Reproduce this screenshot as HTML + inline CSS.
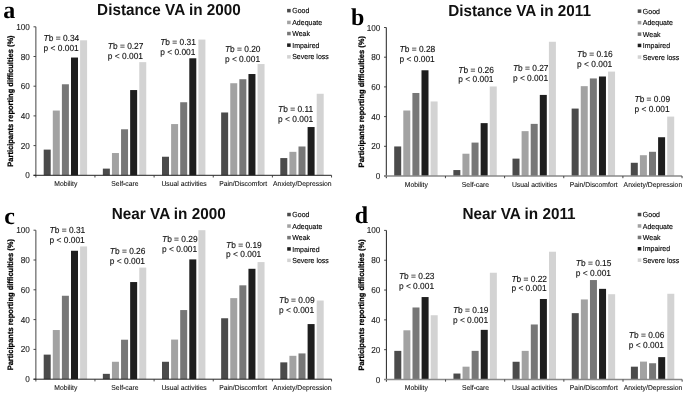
<!DOCTYPE html>
<html><head><meta charset="utf-8"><style>
html,body{margin:0;padding:0;background:#fff;}
svg{display:block;filter:grayscale(1) blur(0.3px);text-rendering:geometricPrecision;}
.tk{stroke:#2a2a2a;stroke-width:0.1px;}
.an{stroke:#111;stroke-width:0.12px;}
.ct{stroke:#111;stroke-width:0.08px;}
.lg{stroke:#000;stroke-width:0.12px;}
.yt{stroke:#000;stroke-width:0.25px;}
</style></head><body>
<svg width="685" height="393" viewBox="0 0 685 393">
<rect width="685" height="393" fill="#fff"/>
<text transform="translate(3.2,18.3)" font-weight="bold" font-family='"Liberation Serif", serif' font-size="24" fill="#000" class="pl">a</text>
<text transform="translate(97.1,15.1) scale(1,1.04)" font-weight="bold" font-family='"Liberation Sans", sans-serif' font-size="15.3" fill="#111" class="ti">Distance VA in 2000</text>
<rect x="43.7" y="149.61" width="7.0" height="25.69" fill="#4b4b4b"/>
<rect x="52.8" y="110.55" width="7.0" height="64.75" fill="#a2a2a2"/>
<rect x="61.9" y="84.27" width="7.0" height="91.03" fill="#777777"/>
<rect x="71" y="57.54" width="7.0" height="117.76" fill="#1e1e1e"/>
<rect x="80.1" y="40.31" width="7.0" height="134.99" fill="#d3d3d3"/>
<text transform="translate(65.78,185.9) scale(1.0,1.04)" text-anchor="middle" font-family='"Liberation Sans", sans-serif' font-size="6.8" fill="#111" class="ct">Mobility</text>
<rect x="102.85" y="168.62" width="7.0" height="6.68" fill="#4b4b4b"/>
<rect x="111.95" y="153.03" width="7.0" height="22.28" fill="#a2a2a2"/>
<rect x="121.05" y="129.27" width="7.0" height="46.04" fill="#777777"/>
<rect x="130.15" y="90.06" width="7.0" height="85.24" fill="#1e1e1e"/>
<rect x="139.25" y="62.14" width="7.0" height="113.16" fill="#d3d3d3"/>
<text transform="translate(124.92,185.9) scale(1.0,1.04)" text-anchor="middle" font-family='"Liberation Sans", sans-serif' font-size="6.8" fill="#111" class="ct">Self-care</text>
<rect x="162" y="156.74" width="7.0" height="18.56" fill="#4b4b4b"/>
<rect x="171.1" y="124.07" width="7.0" height="51.23" fill="#a2a2a2"/>
<rect x="180.2" y="102.24" width="7.0" height="73.06" fill="#777777"/>
<rect x="189.3" y="58.28" width="7.0" height="117.02" fill="#1e1e1e"/>
<rect x="198.4" y="39.57" width="7.0" height="135.73" fill="#d3d3d3"/>
<text transform="translate(184.07,185.9) scale(1.0,1.04)" text-anchor="middle" font-family='"Liberation Sans", sans-serif' font-size="6.8" fill="#111" class="ct">Usual activities</text>
<rect x="221.15" y="112.48" width="7.0" height="62.82" fill="#4b4b4b"/>
<rect x="230.25" y="83.23" width="7.0" height="92.07" fill="#a2a2a2"/>
<rect x="239.35" y="79.22" width="7.0" height="96.08" fill="#777777"/>
<rect x="248.45" y="74.02" width="7.0" height="101.28" fill="#1e1e1e"/>
<rect x="257.55" y="64.07" width="7.0" height="111.23" fill="#d3d3d3"/>
<text transform="translate(243.22,185.9) scale(1.0,1.04)" text-anchor="middle" font-family='"Liberation Sans", sans-serif' font-size="6.8" fill="#111" class="ct">Pain/Discomfort</text>
<rect x="280.3" y="158.07" width="7.0" height="17.23" fill="#4b4b4b"/>
<rect x="289.4" y="151.84" width="7.0" height="23.46" fill="#a2a2a2"/>
<rect x="298.5" y="146.49" width="7.0" height="28.81" fill="#777777"/>
<rect x="307.6" y="127.04" width="7.0" height="48.26" fill="#1e1e1e"/>
<rect x="316.7" y="93.77" width="7.0" height="81.53" fill="#d3d3d3"/>
<text transform="translate(302.37,185.9) scale(1.0,1.04)" text-anchor="middle" font-family='"Liberation Sans", sans-serif' font-size="6.8" fill="#111" class="ct">Anxiety/Depression</text>
<line x1="35.8" y1="26.8" x2="35.8" y2="177.5" stroke="#8a8a8a" stroke-width="1.6"/>
<line x1="33.5" y1="175.3" x2="35.8" y2="175.3" stroke="#333" stroke-width="0.9"/>
<text transform="translate(29.8,178.3) scale(1.0,1.06)" text-anchor="end" font-family='"Liberation Sans", sans-serif' font-size="8.2" fill="#222" class="tk">0</text>
<line x1="33.5" y1="145.6" x2="35.8" y2="145.6" stroke="#333" stroke-width="0.9"/>
<text transform="translate(29.8,148.6) scale(1.0,1.06)" text-anchor="end" font-family='"Liberation Sans", sans-serif' font-size="8.2" fill="#222" class="tk">20</text>
<line x1="33.5" y1="115.9" x2="35.8" y2="115.9" stroke="#333" stroke-width="0.9"/>
<text transform="translate(29.8,118.9) scale(1.0,1.06)" text-anchor="end" font-family='"Liberation Sans", sans-serif' font-size="8.2" fill="#222" class="tk">40</text>
<line x1="33.5" y1="86.2" x2="35.8" y2="86.2" stroke="#333" stroke-width="0.9"/>
<text transform="translate(29.8,89.2) scale(1.0,1.06)" text-anchor="end" font-family='"Liberation Sans", sans-serif' font-size="8.2" fill="#222" class="tk">60</text>
<line x1="33.5" y1="56.5" x2="35.8" y2="56.5" stroke="#333" stroke-width="0.9"/>
<text transform="translate(29.8,59.5) scale(1.0,1.06)" text-anchor="end" font-family='"Liberation Sans", sans-serif' font-size="8.2" fill="#222" class="tk">80</text>
<line x1="33.5" y1="26.8" x2="35.8" y2="26.8" stroke="#333" stroke-width="0.9"/>
<text transform="translate(29.8,29.8) scale(1.0,1.06)" text-anchor="end" font-family='"Liberation Sans", sans-serif' font-size="8.2" fill="#222" class="tk">100</text>
<line x1="33.5" y1="175.3" x2="331.55" y2="175.3" stroke="#222" stroke-width="1.0"/>
<line x1="94.95" y1="175.3" x2="94.95" y2="177.5" stroke="#333" stroke-width="0.9"/>
<line x1="154.1" y1="175.3" x2="154.1" y2="177.5" stroke="#333" stroke-width="0.9"/>
<line x1="213.25" y1="175.3" x2="213.25" y2="177.5" stroke="#333" stroke-width="0.9"/>
<line x1="272.4" y1="175.3" x2="272.4" y2="177.5" stroke="#333" stroke-width="0.9"/>
<line x1="331.55" y1="175.3" x2="331.55" y2="177.5" stroke="#333" stroke-width="0.9"/>
<text transform="translate(13,101.05) rotate(-90) scale(1.0,1.04)" text-anchor="middle" font-weight="bold" font-family='"Liberation Sans", sans-serif' font-size="7.5" fill="#000" class="yt">Participants reporting difficulties (%)</text>
<text transform="translate(43.6,40.8) scale(1.0,1.04)" font-family='"Liberation Sans", sans-serif' font-size="8.4" fill="#111" class="an"><tspan font-style="italic">T</tspan>b = 0.34</text>
<text transform="translate(43.6,51) scale(1.0,1.04)" font-family='"Liberation Sans", sans-serif' font-size="8.4" fill="#111" class="an">p &lt; 0.001</text>
<text transform="translate(107.8,49) scale(1.0,1.04)" font-family='"Liberation Sans", sans-serif' font-size="8.4" fill="#111" class="an"><tspan font-style="italic">T</tspan>b = 0.27</text>
<text transform="translate(107.8,59.1) scale(1.0,1.04)" font-family='"Liberation Sans", sans-serif' font-size="8.4" fill="#111" class="an">p &lt; 0.001</text>
<text transform="translate(160.2,45.3) scale(1.0,1.04)" font-family='"Liberation Sans", sans-serif' font-size="8.4" fill="#111" class="an"><tspan font-style="italic">T</tspan>b = 0.31</text>
<text transform="translate(160.2,55) scale(1.0,1.04)" font-family='"Liberation Sans", sans-serif' font-size="8.4" fill="#111" class="an">p &lt; 0.001</text>
<text transform="translate(224.9,51.8) scale(1.0,1.04)" font-family='"Liberation Sans", sans-serif' font-size="8.4" fill="#111" class="an"><tspan font-style="italic">T</tspan>b = 0.20</text>
<text transform="translate(224.9,61.5) scale(1.0,1.04)" font-family='"Liberation Sans", sans-serif' font-size="8.4" fill="#111" class="an">p &lt; 0.001</text>
<text transform="translate(278.1,111.6) scale(1.0,1.04)" font-family='"Liberation Sans", sans-serif' font-size="8.4" fill="#111" class="an"><tspan font-style="italic">T</tspan>b = 0.11</text>
<text transform="translate(278.1,121.7) scale(1.0,1.04)" font-family='"Liberation Sans", sans-serif' font-size="8.4" fill="#111" class="an">p &lt; 0.001</text>
<rect x="287.1" y="8.9" width="3.6" height="3.5" fill="#4b4b4b"/>
<text transform="translate(292.2,13.2) scale(1.0,1.04)" font-family='"Liberation Sans", sans-serif' font-size="7" fill="#000" class="lg">Good</text>
<rect x="287.1" y="20.7" width="3.6" height="3.5" fill="#a2a2a2"/>
<text transform="translate(292.2,25) scale(1.0,1.04)" font-family='"Liberation Sans", sans-serif' font-size="7" fill="#000" class="lg">Adequate</text>
<rect x="287.1" y="31.8" width="3.6" height="3.5" fill="#777777"/>
<text transform="translate(292.2,36.1) scale(1.0,1.04)" font-family='"Liberation Sans", sans-serif' font-size="7" fill="#000" class="lg">Weak</text>
<rect x="287.1" y="43.4" width="3.6" height="3.5" fill="#1e1e1e"/>
<text transform="translate(292.2,47.7) scale(1.0,1.04)" font-family='"Liberation Sans", sans-serif' font-size="7" fill="#000" class="lg">Impaired</text>
<rect x="287.1" y="55.1" width="3.6" height="3.5" fill="#d3d3d3"/>
<text transform="translate(292.2,59.4) scale(1.0,1.04)" font-family='"Liberation Sans", sans-serif' font-size="7" fill="#000" class="lg">Severe loss</text>
<text transform="translate(351,24.8)" font-weight="bold" font-family='"Liberation Serif", serif' font-size="24" fill="#000" class="pl">b</text>
<text transform="translate(448.2,15.6) scale(1,1.04)" font-weight="bold" font-family='"Liberation Sans", sans-serif' font-size="15.3" fill="#111" class="ti">Distance VA in 2011</text>
<rect x="394.2" y="146.45" width="7.0" height="29.55" fill="#4b4b4b"/>
<rect x="403.3" y="110.51" width="7.0" height="65.49" fill="#a2a2a2"/>
<rect x="412.4" y="92.99" width="7.0" height="83.01" fill="#777777"/>
<rect x="421.5" y="70.27" width="7.0" height="105.73" fill="#1e1e1e"/>
<rect x="430.6" y="101.45" width="7.0" height="74.55" fill="#d3d3d3"/>
<text transform="translate(416.27,186.6) scale(1.0,1.04)" text-anchor="middle" font-family='"Liberation Sans", sans-serif' font-size="6.8" fill="#111" class="ct">Mobility</text>
<rect x="453.35" y="170.06" width="7.0" height="5.94" fill="#4b4b4b"/>
<rect x="462.45" y="153.72" width="7.0" height="22.28" fill="#a2a2a2"/>
<rect x="471.55" y="142.59" width="7.0" height="33.41" fill="#777777"/>
<rect x="480.65" y="123.13" width="7.0" height="52.87" fill="#1e1e1e"/>
<rect x="489.75" y="86.45" width="7.0" height="89.55" fill="#d3d3d3"/>
<text transform="translate(475.42,186.6) scale(1.0,1.04)" text-anchor="middle" font-family='"Liberation Sans", sans-serif' font-size="6.8" fill="#111" class="ct">Self-care</text>
<rect x="512.5" y="158.63" width="7.0" height="17.37" fill="#4b4b4b"/>
<rect x="521.6" y="131.15" width="7.0" height="44.85" fill="#a2a2a2"/>
<rect x="530.7" y="123.88" width="7.0" height="52.12" fill="#777777"/>
<rect x="539.8" y="94.92" width="7.0" height="81.08" fill="#1e1e1e"/>
<rect x="548.9" y="41.76" width="7.0" height="134.24" fill="#d3d3d3"/>
<text transform="translate(534.58,186.6) scale(1.0,1.04)" text-anchor="middle" font-family='"Liberation Sans", sans-serif' font-size="6.8" fill="#111" class="ct">Usual activities</text>
<rect x="571.65" y="108.58" width="7.0" height="67.42" fill="#4b4b4b"/>
<rect x="580.75" y="86.16" width="7.0" height="89.84" fill="#a2a2a2"/>
<rect x="589.85" y="78.44" width="7.0" height="97.56" fill="#777777"/>
<rect x="598.95" y="76.5" width="7.0" height="99.5" fill="#1e1e1e"/>
<rect x="608.05" y="71.6" width="7.0" height="104.4" fill="#d3d3d3"/>
<text transform="translate(593.73,186.6) scale(1.0,1.04)" text-anchor="middle" font-family='"Liberation Sans", sans-serif' font-size="6.8" fill="#111" class="ct">Pain/Discomfort</text>
<rect x="630.8" y="162.78" width="7.0" height="13.22" fill="#4b4b4b"/>
<rect x="639.9" y="155.21" width="7.0" height="20.79" fill="#a2a2a2"/>
<rect x="649" y="151.79" width="7.0" height="24.21" fill="#777777"/>
<rect x="658.1" y="137.24" width="7.0" height="38.76" fill="#1e1e1e"/>
<rect x="667.2" y="116.6" width="7.0" height="59.4" fill="#d3d3d3"/>
<text transform="translate(652.88,186.6) scale(1.0,1.04)" text-anchor="middle" font-family='"Liberation Sans", sans-serif' font-size="6.8" fill="#111" class="ct">Anxiety/Depression</text>
<line x1="386.3" y1="27.5" x2="386.3" y2="178.2" stroke="#222" stroke-width="1.0"/>
<line x1="384" y1="176" x2="386.3" y2="176" stroke="#333" stroke-width="0.9"/>
<text transform="translate(380.3,179) scale(1.0,1.06)" text-anchor="end" font-family='"Liberation Sans", sans-serif' font-size="8.2" fill="#222" class="tk">0</text>
<line x1="384" y1="146.3" x2="386.3" y2="146.3" stroke="#333" stroke-width="0.9"/>
<text transform="translate(380.3,149.3) scale(1.0,1.06)" text-anchor="end" font-family='"Liberation Sans", sans-serif' font-size="8.2" fill="#222" class="tk">20</text>
<line x1="384" y1="116.6" x2="386.3" y2="116.6" stroke="#333" stroke-width="0.9"/>
<text transform="translate(380.3,119.6) scale(1.0,1.06)" text-anchor="end" font-family='"Liberation Sans", sans-serif' font-size="8.2" fill="#222" class="tk">40</text>
<line x1="384" y1="86.9" x2="386.3" y2="86.9" stroke="#333" stroke-width="0.9"/>
<text transform="translate(380.3,89.9) scale(1.0,1.06)" text-anchor="end" font-family='"Liberation Sans", sans-serif' font-size="8.2" fill="#222" class="tk">60</text>
<line x1="384" y1="57.2" x2="386.3" y2="57.2" stroke="#333" stroke-width="0.9"/>
<text transform="translate(380.3,60.2) scale(1.0,1.06)" text-anchor="end" font-family='"Liberation Sans", sans-serif' font-size="8.2" fill="#222" class="tk">80</text>
<line x1="384" y1="27.5" x2="386.3" y2="27.5" stroke="#333" stroke-width="0.9"/>
<text transform="translate(380.3,30.5) scale(1.0,1.06)" text-anchor="end" font-family='"Liberation Sans", sans-serif' font-size="8.2" fill="#222" class="tk">100</text>
<line x1="384" y1="176" x2="682.05" y2="176" stroke="#8a8a8a" stroke-width="1.6"/>
<line x1="445.45" y1="176" x2="445.45" y2="178.2" stroke="#333" stroke-width="0.9"/>
<line x1="504.6" y1="176" x2="504.6" y2="178.2" stroke="#333" stroke-width="0.9"/>
<line x1="563.75" y1="176" x2="563.75" y2="178.2" stroke="#333" stroke-width="0.9"/>
<line x1="622.9" y1="176" x2="622.9" y2="178.2" stroke="#333" stroke-width="0.9"/>
<line x1="682.05" y1="176" x2="682.05" y2="178.2" stroke="#333" stroke-width="0.9"/>
<text transform="translate(363.5,101.75) rotate(-90) scale(1.0,1.04)" text-anchor="middle" font-weight="bold" font-family='"Liberation Sans", sans-serif' font-size="7.5" fill="#000" class="yt">Participants reporting difficulties (%)</text>
<text transform="translate(399.6,51.9) scale(1.0,1.04)" font-family='"Liberation Sans", sans-serif' font-size="8.4" fill="#111" class="an"><tspan font-style="italic">T</tspan>b = 0.28</text>
<text transform="translate(399.6,61.5) scale(1.0,1.04)" font-family='"Liberation Sans", sans-serif' font-size="8.4" fill="#111" class="an">p &lt; 0.001</text>
<text transform="translate(458.3,72.5) scale(1.0,1.04)" font-family='"Liberation Sans", sans-serif' font-size="8.4" fill="#111" class="an"><tspan font-style="italic">T</tspan>b = 0.26</text>
<text transform="translate(458.3,82.3) scale(1.0,1.04)" font-family='"Liberation Sans", sans-serif' font-size="8.4" fill="#111" class="an">p &lt; 0.001</text>
<text transform="translate(512.9,71.2) scale(1.0,1.04)" font-family='"Liberation Sans", sans-serif' font-size="8.4" fill="#111" class="an"><tspan font-style="italic">T</tspan>b = 0.27</text>
<text transform="translate(512.9,81) scale(1.0,1.04)" font-family='"Liberation Sans", sans-serif' font-size="8.4" fill="#111" class="an">p &lt; 0.001</text>
<text transform="translate(577.1,57.1) scale(1.0,1.04)" font-family='"Liberation Sans", sans-serif' font-size="8.4" fill="#111" class="an"><tspan font-style="italic">T</tspan>b = 0.16</text>
<text transform="translate(577.1,66.7) scale(1.0,1.04)" font-family='"Liberation Sans", sans-serif' font-size="8.4" fill="#111" class="an">p &lt; 0.001</text>
<text transform="translate(634.5,102.4) scale(1.0,1.04)" font-family='"Liberation Sans", sans-serif' font-size="8.4" fill="#111" class="an"><tspan font-style="italic">T</tspan>b = 0.09</text>
<text transform="translate(634.5,112.2) scale(1.0,1.04)" font-family='"Liberation Sans", sans-serif' font-size="8.4" fill="#111" class="an">p &lt; 0.001</text>
<rect x="637.7" y="9.4" width="3.6" height="3.5" fill="#4b4b4b"/>
<text transform="translate(642.8,13.7) scale(1.0,1.04)" font-family='"Liberation Sans", sans-serif' font-size="7" fill="#000" class="lg">Good</text>
<rect x="637.7" y="20.9" width="3.6" height="3.5" fill="#a2a2a2"/>
<text transform="translate(642.8,25.2) scale(1.0,1.04)" font-family='"Liberation Sans", sans-serif' font-size="7" fill="#000" class="lg">Adequate</text>
<rect x="637.7" y="32.4" width="3.6" height="3.5" fill="#777777"/>
<text transform="translate(642.8,36.7) scale(1.0,1.04)" font-family='"Liberation Sans", sans-serif' font-size="7" fill="#000" class="lg">Weak</text>
<rect x="637.7" y="43.7" width="3.6" height="3.5" fill="#1e1e1e"/>
<text transform="translate(642.8,48) scale(1.0,1.04)" font-family='"Liberation Sans", sans-serif' font-size="7" fill="#000" class="lg">Impaired</text>
<rect x="637.7" y="55.3" width="3.6" height="3.5" fill="#d3d3d3"/>
<text transform="translate(642.8,59.6) scale(1.0,1.04)" font-family='"Liberation Sans", sans-serif' font-size="7" fill="#000" class="lg">Severe loss</text>
<text transform="translate(4.2,223.9)" font-weight="bold" font-family='"Liberation Serif", serif' font-size="24" fill="#000" class="pl">c</text>
<text transform="translate(111.8,218.7) scale(1,1.04)" font-weight="bold" font-family='"Liberation Sans", sans-serif' font-size="15.3" fill="#111" class="ti">Near VA in 2000</text>
<rect x="43.7" y="354.62" width="7.0" height="24.59" fill="#4b4b4b"/>
<rect x="52.8" y="330.03" width="7.0" height="49.17" fill="#a2a2a2"/>
<rect x="61.9" y="295.76" width="7.0" height="83.44" fill="#777777"/>
<rect x="71" y="250.76" width="7.0" height="128.44" fill="#1e1e1e"/>
<rect x="80.1" y="246.44" width="7.0" height="132.76" fill="#d3d3d3"/>
<text transform="translate(65.78,389.8) scale(1.0,1.04)" text-anchor="middle" font-family='"Liberation Sans", sans-serif' font-size="6.8" fill="#111" class="ct">Mobility</text>
<rect x="102.85" y="373.84" width="7.0" height="5.36" fill="#4b4b4b"/>
<rect x="111.95" y="361.77" width="7.0" height="17.43" fill="#a2a2a2"/>
<rect x="121.05" y="339.71" width="7.0" height="39.48" fill="#777777"/>
<rect x="130.15" y="282.05" width="7.0" height="97.15" fill="#1e1e1e"/>
<rect x="139.25" y="267.6" width="7.0" height="111.6" fill="#d3d3d3"/>
<text transform="translate(124.92,389.8) scale(1.0,1.04)" text-anchor="middle" font-family='"Liberation Sans", sans-serif' font-size="6.8" fill="#111" class="ct">Self-care</text>
<rect x="162" y="361.77" width="7.0" height="17.43" fill="#4b4b4b"/>
<rect x="171.1" y="339.57" width="7.0" height="39.63" fill="#a2a2a2"/>
<rect x="180.2" y="310.06" width="7.0" height="69.14" fill="#777777"/>
<rect x="189.3" y="259.4" width="7.0" height="119.8" fill="#1e1e1e"/>
<rect x="198.4" y="230.2" width="7.0" height="149" fill="#d3d3d3"/>
<text transform="translate(184.07,389.8) scale(1.0,1.04)" text-anchor="middle" font-family='"Liberation Sans", sans-serif' font-size="6.8" fill="#111" class="ct">Usual activities</text>
<rect x="221.15" y="318.26" width="7.0" height="60.94" fill="#4b4b4b"/>
<rect x="230.25" y="298.14" width="7.0" height="81.06" fill="#a2a2a2"/>
<rect x="239.35" y="285.33" width="7.0" height="93.87" fill="#777777"/>
<rect x="248.45" y="268.79" width="7.0" height="110.41" fill="#1e1e1e"/>
<rect x="257.55" y="262.09" width="7.0" height="117.11" fill="#d3d3d3"/>
<text transform="translate(243.22,389.8) scale(1.0,1.04)" text-anchor="middle" font-family='"Liberation Sans", sans-serif' font-size="6.8" fill="#111" class="ct">Pain/Discomfort</text>
<rect x="280.3" y="362.36" width="7.0" height="16.84" fill="#4b4b4b"/>
<rect x="289.4" y="355.81" width="7.0" height="23.39" fill="#a2a2a2"/>
<rect x="298.5" y="353.42" width="7.0" height="25.78" fill="#777777"/>
<rect x="307.6" y="324.07" width="7.0" height="55.13" fill="#1e1e1e"/>
<rect x="316.7" y="300.53" width="7.0" height="78.67" fill="#d3d3d3"/>
<text transform="translate(302.37,389.8) scale(1.0,1.04)" text-anchor="middle" font-family='"Liberation Sans", sans-serif' font-size="6.8" fill="#111" class="ct">Anxiety/Depression</text>
<line x1="35.8" y1="230.2" x2="35.8" y2="381.4" stroke="#8a8a8a" stroke-width="1.6"/>
<line x1="33.5" y1="379.2" x2="35.8" y2="379.2" stroke="#333" stroke-width="0.9"/>
<text transform="translate(29.8,382.2) scale(1.0,1.06)" text-anchor="end" font-family='"Liberation Sans", sans-serif' font-size="8.2" fill="#222" class="tk">0</text>
<line x1="33.5" y1="349.4" x2="35.8" y2="349.4" stroke="#333" stroke-width="0.9"/>
<text transform="translate(29.8,352.4) scale(1.0,1.06)" text-anchor="end" font-family='"Liberation Sans", sans-serif' font-size="8.2" fill="#222" class="tk">20</text>
<line x1="33.5" y1="319.6" x2="35.8" y2="319.6" stroke="#333" stroke-width="0.9"/>
<text transform="translate(29.8,322.6) scale(1.0,1.06)" text-anchor="end" font-family='"Liberation Sans", sans-serif' font-size="8.2" fill="#222" class="tk">40</text>
<line x1="33.5" y1="289.8" x2="35.8" y2="289.8" stroke="#333" stroke-width="0.9"/>
<text transform="translate(29.8,292.8) scale(1.0,1.06)" text-anchor="end" font-family='"Liberation Sans", sans-serif' font-size="8.2" fill="#222" class="tk">60</text>
<line x1="33.5" y1="260" x2="35.8" y2="260" stroke="#333" stroke-width="0.9"/>
<text transform="translate(29.8,263) scale(1.0,1.06)" text-anchor="end" font-family='"Liberation Sans", sans-serif' font-size="8.2" fill="#222" class="tk">80</text>
<line x1="33.5" y1="230.2" x2="35.8" y2="230.2" stroke="#333" stroke-width="0.9"/>
<text transform="translate(29.8,233.2) scale(1.0,1.06)" text-anchor="end" font-family='"Liberation Sans", sans-serif' font-size="8.2" fill="#222" class="tk">100</text>
<line x1="33.5" y1="379.2" x2="331.55" y2="379.2" stroke="#222" stroke-width="1.0"/>
<line x1="94.95" y1="379.2" x2="94.95" y2="381.4" stroke="#333" stroke-width="0.9"/>
<line x1="154.1" y1="379.2" x2="154.1" y2="381.4" stroke="#333" stroke-width="0.9"/>
<line x1="213.25" y1="379.2" x2="213.25" y2="381.4" stroke="#333" stroke-width="0.9"/>
<line x1="272.4" y1="379.2" x2="272.4" y2="381.4" stroke="#333" stroke-width="0.9"/>
<line x1="331.55" y1="379.2" x2="331.55" y2="381.4" stroke="#333" stroke-width="0.9"/>
<text transform="translate(13,304.7) rotate(-90) scale(1.0,1.04)" text-anchor="middle" font-weight="bold" font-family='"Liberation Sans", sans-serif' font-size="7.5" fill="#000" class="yt">Participants reporting difficulties (%)</text>
<text transform="translate(49.6,233.4) scale(1.0,1.04)" font-family='"Liberation Sans", sans-serif' font-size="8.4" fill="#111" class="an"><tspan font-style="italic">T</tspan>b = 0.31</text>
<text transform="translate(49.6,243.1) scale(1.0,1.04)" font-family='"Liberation Sans", sans-serif' font-size="8.4" fill="#111" class="an">p &lt; 0.001</text>
<text transform="translate(109.8,254.2) scale(1.0,1.04)" font-family='"Liberation Sans", sans-serif' font-size="8.4" fill="#111" class="an"><tspan font-style="italic">T</tspan>b = 0.26</text>
<text transform="translate(109.8,264) scale(1.0,1.04)" font-family='"Liberation Sans", sans-serif' font-size="8.4" fill="#111" class="an">p &lt; 0.001</text>
<text transform="translate(162,242.4) scale(1.0,1.04)" font-family='"Liberation Sans", sans-serif' font-size="8.4" fill="#111" class="an"><tspan font-style="italic">T</tspan>b = 0.29</text>
<text transform="translate(162,252.2) scale(1.0,1.04)" font-family='"Liberation Sans", sans-serif' font-size="8.4" fill="#111" class="an">p &lt; 0.001</text>
<text transform="translate(226.1,247.5) scale(1.0,1.04)" font-family='"Liberation Sans", sans-serif' font-size="8.4" fill="#111" class="an"><tspan font-style="italic">T</tspan>b = 0.19</text>
<text transform="translate(226.1,257.3) scale(1.0,1.04)" font-family='"Liberation Sans", sans-serif' font-size="8.4" fill="#111" class="an">p &lt; 0.001</text>
<text transform="translate(279,303.4) scale(1.0,1.04)" font-family='"Liberation Sans", sans-serif' font-size="8.4" fill="#111" class="an"><tspan font-style="italic">T</tspan>b = 0.09</text>
<text transform="translate(279,313.2) scale(1.0,1.04)" font-family='"Liberation Sans", sans-serif' font-size="8.4" fill="#111" class="an">p &lt; 0.001</text>
<rect x="287.2" y="212.8" width="3.6" height="3.5" fill="#4b4b4b"/>
<text transform="translate(292.3,217.1) scale(1.0,1.04)" font-family='"Liberation Sans", sans-serif' font-size="7" fill="#000" class="lg">Good</text>
<rect x="287.2" y="224.3" width="3.6" height="3.5" fill="#a2a2a2"/>
<text transform="translate(292.3,228.6) scale(1.0,1.04)" font-family='"Liberation Sans", sans-serif' font-size="7" fill="#000" class="lg">Adequate</text>
<rect x="287.2" y="235.9" width="3.6" height="3.5" fill="#777777"/>
<text transform="translate(292.3,240.2) scale(1.0,1.04)" font-family='"Liberation Sans", sans-serif' font-size="7" fill="#000" class="lg">Weak</text>
<rect x="287.2" y="247.2" width="3.6" height="3.5" fill="#1e1e1e"/>
<text transform="translate(292.3,251.5) scale(1.0,1.04)" font-family='"Liberation Sans", sans-serif' font-size="7" fill="#000" class="lg">Impaired</text>
<rect x="287.2" y="258.6" width="3.6" height="3.5" fill="#d3d3d3"/>
<text transform="translate(292.3,262.9) scale(1.0,1.04)" font-family='"Liberation Sans", sans-serif' font-size="7" fill="#000" class="lg">Severe loss</text>
<text transform="translate(354.8,223)" font-weight="bold" font-family='"Liberation Serif", serif' font-size="24" fill="#000" class="pl">d</text>
<text transform="translate(462.5,218.7) scale(1,1.04)" font-weight="bold" font-family='"Liberation Sans", sans-serif' font-size="15.3" fill="#111" class="ti">Near VA in 2011</text>
<rect x="394.3" y="350.87" width="7.0" height="28.63" fill="#4b4b4b"/>
<rect x="403.4" y="330.3" width="7.0" height="49.2" fill="#a2a2a2"/>
<rect x="412.5" y="307.48" width="7.0" height="72.02" fill="#777777"/>
<rect x="421.6" y="297.05" width="7.0" height="82.45" fill="#1e1e1e"/>
<rect x="430.7" y="315.24" width="7.0" height="64.26" fill="#d3d3d3"/>
<text transform="translate(416.37,390.1) scale(1.0,1.04)" text-anchor="middle" font-family='"Liberation Sans", sans-serif' font-size="6.8" fill="#111" class="ct">Mobility</text>
<rect x="453.45" y="373.54" width="7.0" height="5.96" fill="#4b4b4b"/>
<rect x="462.55" y="366.68" width="7.0" height="12.82" fill="#a2a2a2"/>
<rect x="471.65" y="350.87" width="7.0" height="28.63" fill="#777777"/>
<rect x="480.75" y="329.85" width="7.0" height="49.65" fill="#1e1e1e"/>
<rect x="489.85" y="272.74" width="7.0" height="106.76" fill="#d3d3d3"/>
<text transform="translate(475.52,390.1) scale(1.0,1.04)" text-anchor="middle" font-family='"Liberation Sans", sans-serif' font-size="6.8" fill="#111" class="ct">Self-care</text>
<rect x="512.6" y="361.76" width="7.0" height="17.74" fill="#4b4b4b"/>
<rect x="521.7" y="350.87" width="7.0" height="28.63" fill="#a2a2a2"/>
<rect x="530.8" y="324.48" width="7.0" height="55.02" fill="#777777"/>
<rect x="539.9" y="298.99" width="7.0" height="80.51" fill="#1e1e1e"/>
<rect x="549" y="251.72" width="7.0" height="127.78" fill="#d3d3d3"/>
<text transform="translate(534.67,390.1) scale(1.0,1.04)" text-anchor="middle" font-family='"Liberation Sans", sans-serif' font-size="6.8" fill="#111" class="ct">Usual activities</text>
<rect x="571.75" y="313.15" width="7.0" height="66.35" fill="#4b4b4b"/>
<rect x="580.85" y="299.43" width="7.0" height="80.07" fill="#a2a2a2"/>
<rect x="589.95" y="280.05" width="7.0" height="99.45" fill="#777777"/>
<rect x="599.05" y="288.85" width="7.0" height="90.65" fill="#1e1e1e"/>
<rect x="608.15" y="294.21" width="7.0" height="85.29" fill="#d3d3d3"/>
<text transform="translate(593.82,390.1) scale(1.0,1.04)" text-anchor="middle" font-family='"Liberation Sans", sans-serif' font-size="6.8" fill="#111" class="ct">Pain/Discomfort</text>
<rect x="630.9" y="366.68" width="7.0" height="12.82" fill="#4b4b4b"/>
<rect x="640" y="361.61" width="7.0" height="17.89" fill="#a2a2a2"/>
<rect x="649.1" y="363.25" width="7.0" height="16.25" fill="#777777"/>
<rect x="658.2" y="357.13" width="7.0" height="22.36" fill="#1e1e1e"/>
<rect x="667.3" y="293.77" width="7.0" height="85.73" fill="#d3d3d3"/>
<text transform="translate(652.98,390.1) scale(1.0,1.04)" text-anchor="middle" font-family='"Liberation Sans", sans-serif' font-size="6.8" fill="#111" class="ct">Anxiety/Depression</text>
<line x1="386.4" y1="230.4" x2="386.4" y2="381.7" stroke="#222" stroke-width="1.0"/>
<line x1="384.1" y1="379.5" x2="386.4" y2="379.5" stroke="#333" stroke-width="0.9"/>
<text transform="translate(380.4,382.5) scale(1.0,1.06)" text-anchor="end" font-family='"Liberation Sans", sans-serif' font-size="8.2" fill="#222" class="tk">0</text>
<line x1="384.1" y1="349.68" x2="386.4" y2="349.68" stroke="#333" stroke-width="0.9"/>
<text transform="translate(380.4,352.68) scale(1.0,1.06)" text-anchor="end" font-family='"Liberation Sans", sans-serif' font-size="8.2" fill="#222" class="tk">20</text>
<line x1="384.1" y1="319.86" x2="386.4" y2="319.86" stroke="#333" stroke-width="0.9"/>
<text transform="translate(380.4,322.86) scale(1.0,1.06)" text-anchor="end" font-family='"Liberation Sans", sans-serif' font-size="8.2" fill="#222" class="tk">40</text>
<line x1="384.1" y1="290.04" x2="386.4" y2="290.04" stroke="#333" stroke-width="0.9"/>
<text transform="translate(380.4,293.04) scale(1.0,1.06)" text-anchor="end" font-family='"Liberation Sans", sans-serif' font-size="8.2" fill="#222" class="tk">60</text>
<line x1="384.1" y1="260.22" x2="386.4" y2="260.22" stroke="#333" stroke-width="0.9"/>
<text transform="translate(380.4,263.22) scale(1.0,1.06)" text-anchor="end" font-family='"Liberation Sans", sans-serif' font-size="8.2" fill="#222" class="tk">80</text>
<line x1="384.1" y1="230.4" x2="386.4" y2="230.4" stroke="#333" stroke-width="0.9"/>
<text transform="translate(380.4,233.4) scale(1.0,1.06)" text-anchor="end" font-family='"Liberation Sans", sans-serif' font-size="8.2" fill="#222" class="tk">100</text>
<line x1="384.1" y1="379.5" x2="682.15" y2="379.5" stroke="#8a8a8a" stroke-width="1.6"/>
<line x1="445.55" y1="379.5" x2="445.55" y2="381.7" stroke="#333" stroke-width="0.9"/>
<line x1="504.7" y1="379.5" x2="504.7" y2="381.7" stroke="#333" stroke-width="0.9"/>
<line x1="563.85" y1="379.5" x2="563.85" y2="381.7" stroke="#333" stroke-width="0.9"/>
<line x1="623" y1="379.5" x2="623" y2="381.7" stroke="#333" stroke-width="0.9"/>
<line x1="682.15" y1="379.5" x2="682.15" y2="381.7" stroke="#333" stroke-width="0.9"/>
<text transform="translate(363.6,304.95) rotate(-90) scale(1.0,1.04)" text-anchor="middle" font-weight="bold" font-family='"Liberation Sans", sans-serif' font-size="7.5" fill="#000" class="yt">Participants reporting difficulties (%)</text>
<text transform="translate(398.9,279.4) scale(1.0,1.04)" font-family='"Liberation Sans", sans-serif' font-size="8.4" fill="#111" class="an"><tspan font-style="italic">T</tspan>b = 0.23</text>
<text transform="translate(398.9,289.2) scale(1.0,1.04)" font-family='"Liberation Sans", sans-serif' font-size="8.4" fill="#111" class="an">p &lt; 0.001</text>
<text transform="translate(452.9,312.7) scale(1.0,1.04)" font-family='"Liberation Sans", sans-serif' font-size="8.4" fill="#111" class="an"><tspan font-style="italic">T</tspan>b = 0.19</text>
<text transform="translate(452.9,322.7) scale(1.0,1.04)" font-family='"Liberation Sans", sans-serif' font-size="8.4" fill="#111" class="an">p &lt; 0.001</text>
<text transform="translate(511.4,281.5) scale(1.0,1.04)" font-family='"Liberation Sans", sans-serif' font-size="8.4" fill="#111" class="an"><tspan font-style="italic">T</tspan>b = 0.22</text>
<text transform="translate(511.4,291.1) scale(1.0,1.04)" font-family='"Liberation Sans", sans-serif' font-size="8.4" fill="#111" class="an">p &lt; 0.001</text>
<text transform="translate(575.8,265.7) scale(1.0,1.04)" font-family='"Liberation Sans", sans-serif' font-size="8.4" fill="#111" class="an"><tspan font-style="italic">T</tspan>b = 0.15</text>
<text transform="translate(575.8,275.7) scale(1.0,1.04)" font-family='"Liberation Sans", sans-serif' font-size="8.4" fill="#111" class="an">p &lt; 0.001</text>
<text transform="translate(628.8,338) scale(1.0,1.04)" font-family='"Liberation Sans", sans-serif' font-size="8.4" fill="#111" class="an"><tspan font-style="italic">T</tspan>b = 0.06</text>
<text transform="translate(628.8,347.9) scale(1.0,1.04)" font-family='"Liberation Sans", sans-serif' font-size="8.4" fill="#111" class="an">p &lt; 0.001</text>
<rect x="637.7" y="212.8" width="3.6" height="3.5" fill="#4b4b4b"/>
<text transform="translate(642.8,217.1) scale(1.0,1.04)" font-family='"Liberation Sans", sans-serif' font-size="7" fill="#000" class="lg">Good</text>
<rect x="637.7" y="224.2" width="3.6" height="3.5" fill="#a2a2a2"/>
<text transform="translate(642.8,228.5) scale(1.0,1.04)" font-family='"Liberation Sans", sans-serif' font-size="7" fill="#000" class="lg">Adequate</text>
<rect x="637.7" y="235.7" width="3.6" height="3.5" fill="#777777"/>
<text transform="translate(642.8,240) scale(1.0,1.04)" font-family='"Liberation Sans", sans-serif' font-size="7" fill="#000" class="lg">Weak</text>
<rect x="637.7" y="247" width="3.6" height="3.5" fill="#1e1e1e"/>
<text transform="translate(642.8,251.3) scale(1.0,1.04)" font-family='"Liberation Sans", sans-serif' font-size="7" fill="#000" class="lg">Impaired</text>
<rect x="637.7" y="258.4" width="3.6" height="3.5" fill="#d3d3d3"/>
<text transform="translate(642.8,262.7) scale(1.0,1.04)" font-family='"Liberation Sans", sans-serif' font-size="7" fill="#000" class="lg">Severe loss</text>
</svg>
</body></html>
